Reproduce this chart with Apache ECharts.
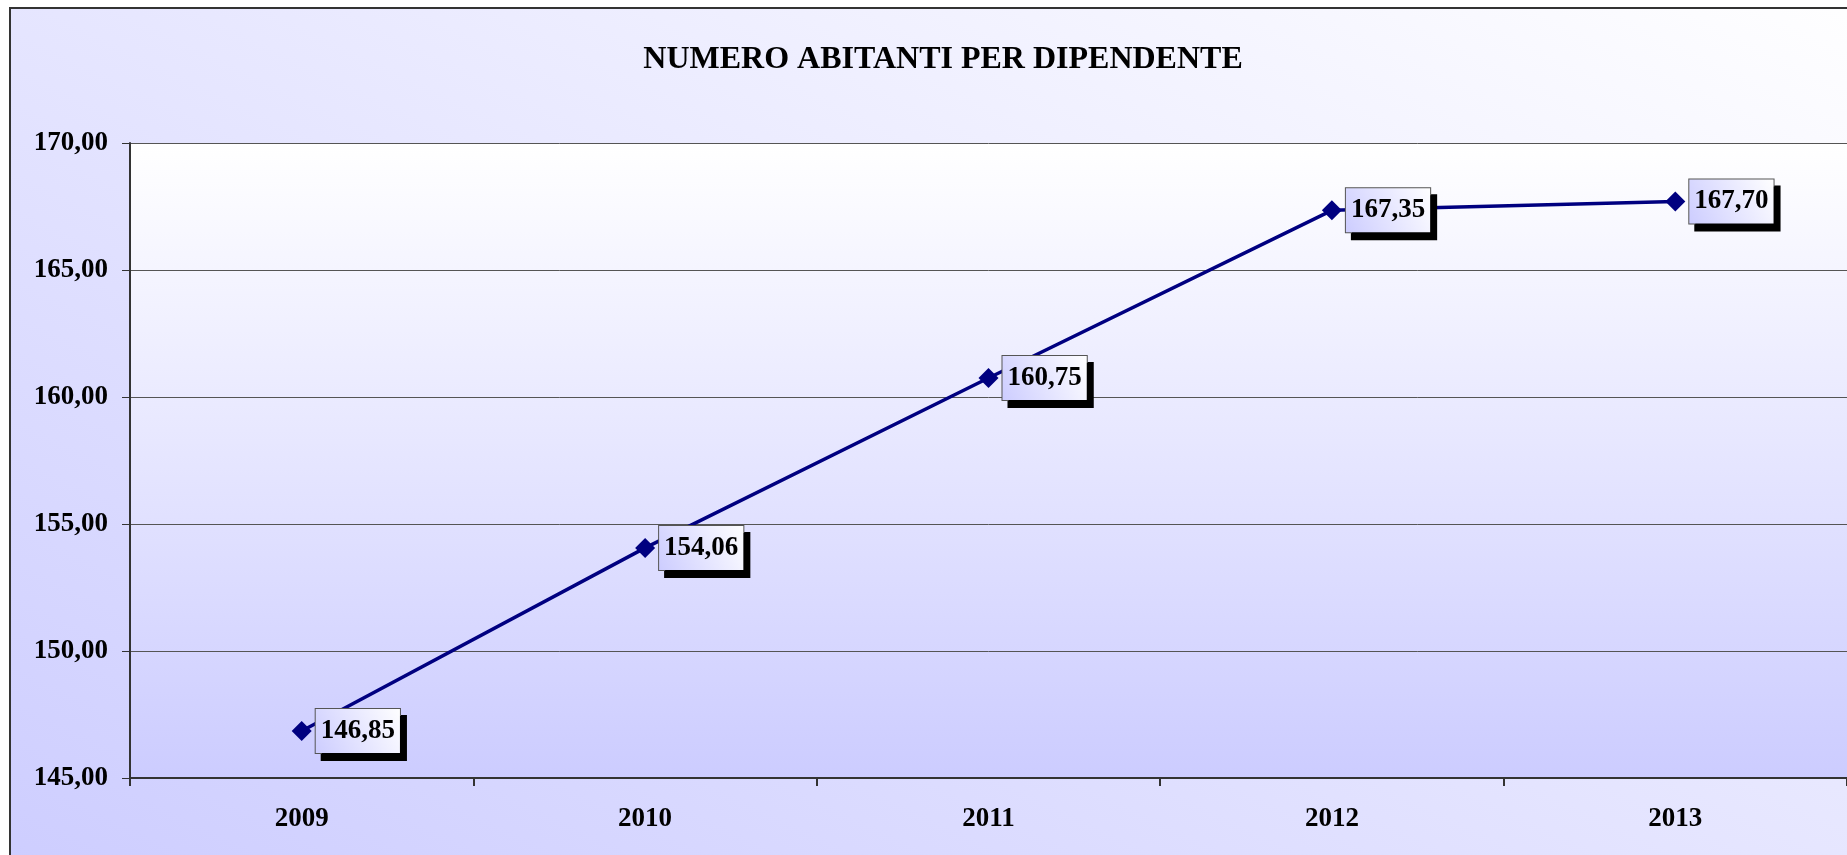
<!DOCTYPE html>
<html>
<head>
<meta charset="utf-8">
<title>Numero abitanti per dipendente</title>
<script src="https://cdn.jsdelivr.net/npm/echarts@6/dist/echarts.min.js"></script>
<style>
  html, body { margin: 0; padding: 0; background: #ffffff; overflow: hidden; }
  #frame {
    position: absolute; left: 9px; top: 7px; width: 1900px; height: 900px;
    border: 2px solid #333333;
    background: linear-gradient(to top right, #ccccff, #ffffff);
  }
  #main { position: absolute; left: 0; top: 0; width: 1847px; height: 855px; }
</style>
</head>
<body>
<div id="frame"></div>
<div id="main"></div>
<script>
// dati
const anni = ["2009", "2010", "2011", "2012", "2013"];
const abitantiPerDipendente = [146.85, 154.06, 160.75, 167.35, 167.70];
const yTicks = [145, 150, 155, 160, 165, 170];

const serif = "'Liberation Serif', 'Times New Roman', serif";
const fmt = v => v.toFixed(2).replace(".", ",");

const chart = echarts.init(document.getElementById("main"));
chart.setOption({
  backgroundColor: "transparent",
  animation: false,
  title: {
    text: "NUMERO ABITANTI PER DIPENDENTE",
    left: 938,
    top: 55,
    textAlign: "center",
    textVerticalAlign: "middle",
    textStyle: { fontFamily: serif, fontWeight: "bold", fontSize: 32, color: "#000" }
  },
  grid: {
    left: 130, top: 143, right: 0, bottom: 77,
    show: true,
    borderWidth: 0,
    backgroundColor: {
      type: "linear", x: 0, y: 0, x2: 0, y2: 1,
      colorStops: [
        { offset: 0, color: "#ffffff" },
        { offset: 1, color: "#ccccff" }
      ]
    }
  },
  xAxis: {
    type: "category",
    data: anni,
    boundaryGap: true,
    axisLine: { lineStyle: { color: "#333", width: 2 } },
    axisTick: { show: true, length: 8, interval: 0, lineStyle: { color: "#333", width: 2 } },
    axisLabel: { margin: 28, fontFamily: serif, fontWeight: "bold", fontSize: 27, color: "#000" }
  },
  yAxis: {
    type: "value",
    min: yTicks[0],
    max: yTicks[yTicks.length - 1],
    interval: 5,
    axisLine: { show: true, lineStyle: { color: "#333", width: 2 } },
    axisTick: { show: true, length: 8, lineStyle: { color: "#333", width: 1 } },
    splitLine: { lineStyle: { color: "#555", width: 1 } },
    axisLabel: {
      margin: 22, fontFamily: serif, fontWeight: "bold", fontSize: 27, color: "#000",
      formatter: v => fmt(v)
    }
  },
  series: [{
    type: "line",
    data: abitantiPerDipendente,
    symbol: "diamond",
    symbolSize: 20,
    showAllSymbol: true,
    lineStyle: { color: "#000080", width: 3.5 },
    itemStyle: { color: "#000080" },
    label: {
      show: true,
      position: "right",
      distance: 4,
      formatter: p => fmt(p.value),
      fontFamily: serif, fontWeight: "bold", fontSize: 27, color: "#000",
      padding: [9, 5, 8, 5],
      borderColor: "#555", borderWidth: 1,
      backgroundColor: {
        type: "linear", x: 1, y: 0, x2: 0, y2: 1,
        colorStops: [
          { offset: 0, color: "#ffffff" },
          { offset: 1, color: "#ccccff" }
        ]
      },
      shadowColor: "#000", shadowBlur: 0, shadowOffsetX: 6, shadowOffsetY: 7
    }
  }]
});
</script>
</body>
</html>
